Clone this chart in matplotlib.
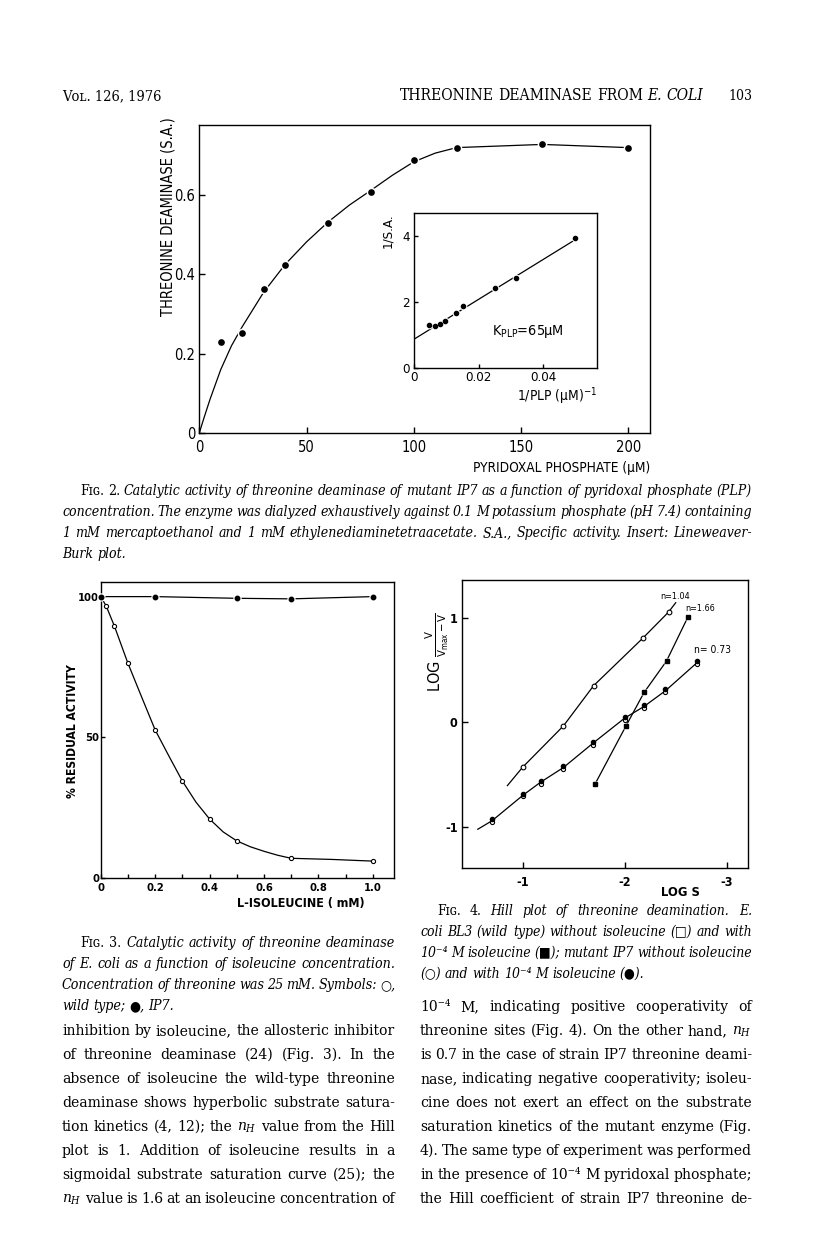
import matplotlib
matplotlib.use("Agg")
import matplotlib.pyplot as plt
from matplotlib import font_manager as fm
from matplotlib.ticker import MultipleLocator

W, H = 816, 1233

# ---- Fig. 2: specific activity vs pyridoxal phosphate ----
plp_um = [10, 20, 30, 40, 60, 80, 100, 120, 160, 200]
spec_act = [0.230, 0.253, 0.363, 0.425, 0.530, 0.609, 0.688, 0.720, 0.728, 0.720]
# the hand drawn saturation curve
sat_curve_x = [0, 2, 5, 10, 15, 20, 30, 40, 50, 60, 70, 80, 90, 100, 110, 120, 160, 200]
sat_curve_y = [0, 0.035, 0.085, 0.16, 0.22, 0.268, 0.355, 0.425, 0.482, 0.532,
               0.575, 0.612, 0.65, 0.684, 0.706, 0.72, 0.728, 0.72]

# insert: Lineweaver-Burk plot
inv_plp = [0.0047, 0.0066, 0.0081, 0.0096, 0.0129, 0.0153, 0.0250, 0.0316, 0.0499]
inv_sa = [1.30, 1.28, 1.33, 1.43, 1.66, 1.87, 2.42, 2.72, 3.95]
lb_line_x = [0, 0.050]
lb_line_y = [0.88, 3.90]

# ---- Fig. 3: residual activity vs isoleucine ----
ile_mm = [0, 0.02, 0.05, 0.1, 0.2, 0.3, 0.4, 0.5, 0.7, 1.0]
wild_type = [100, 96.7, 89.6, 76.3, 52.6, 34.4, 20.9, 13.1, 6.9, 5.9]
wt_curve_x = [0, 0.02, 0.05, 0.1, 0.15, 0.2, 0.25, 0.3, 0.35, 0.4, 0.45, 0.5, 0.55, 0.6, 0.65, 0.7, 0.85, 1.0]
wt_curve_y = [100, 96.7, 89.6, 76.3, 64.4, 52.6, 43.4, 34.4, 26.9, 20.9, 16.3, 13.1, 11.0, 9.4, 8.0, 6.9, 6.5, 5.9]
ip7_ile_mm = [0, 0.2, 0.5, 0.7, 1.0]
ip7_act = [100, 100, 99.4, 99.2, 100]

# ---- Fig. 4: Hill plot ----
wt_x = [-1.0, -1.40, -1.695, -2.176, -2.43]
wt_y = [-0.429, -0.032, 0.353, 0.808, 1.06]
wt_line_x = [-0.85, -1.0, -1.40, -1.695, -2.176, -2.43, -2.50]
wt_line_y = [-0.606, -0.429, -0.032, 0.353, 0.808, 1.06, 1.15]
wt_ile_x = [-1.712, -2.01, -2.19, -2.41, -2.62]
wt_ile_y = [-0.586, -0.038, 0.288, 0.59, 1.013]
ip7_x = [-0.70, -1.006, -1.176, -1.40, -1.69, -2.00, -2.19, -2.40, -2.71]
ip7_noile_y = [-0.955, -0.71, -0.59, -0.445, -0.212, 0.025, 0.14, 0.29, 0.56]
ip7_withile_y = [-0.93, -0.685, -0.56, -0.42, -0.185, 0.052, 0.168, 0.318, 0.59]
ip7_line_x = [-0.56, -0.70, -1.006, -1.176, -1.40, -1.69, -2.00, -2.19, -2.40, -2.71]
ip7_line_y = [-1.025, -0.943, -0.696, -0.573, -0.432, -0.198, 0.042, 0.154, 0.305, 0.575]

# ---- page text ----
cap2 = ["Fɪɢ. 2. Catalytic activity of threonine deaminase of mutant IP7 as a function of pyridoxal phosphate (PLP)",
        "concentration. The enzyme was dialyzed exhaustively against 0.1 M potassium phosphate (pH 7.4) containing",
        "1 mM mercaptoethanol and 1 mM ethylenediaminetetraacetate. S.A., Specific activity. Insert: Lineweaver-",
        "Burk plot."]
cap3 = ["Fɪɢ. 3. Catalytic activity of threonine deaminase",
        "of E. coli as a function of isoleucine concentration.",
        "Concentration of threonine was 25 mM. Symbols: ○,",
        "wild type; ●, IP7."]
cap4 = ["Fɪɢ. 4. Hill plot of threonine deamination. E.",
        "coli BL3 (wild type) without isoleucine (□) and with",
        "10⁻⁴ M isoleucine (■); mutant IP7 without isoleucine",
        "(○) and with 10⁻⁴ M isoleucine (●)."]
NH = r"$\mathit{n}_{\mathit{H}}$"
body_left = ["inhibition by isoleucine, the allosteric inhibitor",
             "of threonine deaminase (24) (Fig. 3). In the",
             "absence of isoleucine the wild-type threonine",
             "deaminase shows hyperbolic substrate satura-",
             "tion kinetics (4, 12); the " + NH + " value from the Hill",
             "plot is 1. Addition of isoleucine results in a",
             "sigmoidal substrate saturation curve (25); the",
             NH + " value is 1.6 at an isoleucine concentration of"]
body_right = ["10⁻⁴ M, indicating positive cooperativity of",
              "threonine sites (Fig. 4). On the other hand, " + NH,
              "is 0.7 in the case of strain IP7 threonine deami-",
              "nase, indicating negative cooperativity; isoleu-",
              "cine does not exert an effect on the substrate",
              "saturation kinetics of the mutant enzyme (Fig.",
              "4). The same type of experiment was performed",
              "in the presence of 10⁻⁴ M pyridoxal phosphate;",
              "the Hill coefficient of strain IP7 threonine de-"]

CHART = 'DejaVu Sans'
names = {f.name for f in fm.fontManager.ttflist}
if 'Liberation Sans Narrow' in names:
    CHART = 'Liberation Sans Narrow'
SERIF = ['DejaVu Serif', 'DejaVu Sans']
plt.rcParams['font.family'] = [CHART, 'DejaVu Sans']
plt.rcParams['font.stretch'] = 'condensed'
plt.rcParams['mathtext.default'] = 'regular'
plt.rcParams['mathtext.fontset'] = 'dejavuserif'
plt.rcParams['axes.linewidth'] = 1.0

fig = plt.figure(figsize=(W / 100, H / 100), dpi=100)
renderer = fig.canvas.get_renderer()


def box(l, t, r, b):
    return fig.add_axes([l / W, 1 - b / H, (r - l) / W, (b - t) / H])


def width_of(s, **kw):
    t = fig.text(0, 0, s, **kw)
    w = t.get_window_extent(renderer).width
    t.remove()
    return w


def label(x, y, s, length, ha='center', rotation=0, **kw):
    size = 10 * length / width_of(s, size=10, **kw)
    fig.text(x / W, 1 - y / H, s, size=size, ha=ha, va='center', rotation=rotation, **kw)


def dots(ax, x, y, ms, halo, **kw):
    ax.plot(x, y, 'o', ms=halo, mfc='white', mec='none', zorder=3, clip_on=False)
    ax.plot(x, y, 'o', ms=ms, color='k', zorder=4, clip_on=False, **kw)


ROMAN = dict(family=SERIF, style='normal', stretch='condensed')
ITAL = dict(family=SERIF, style='italic', stretch='condensed')


def tokens_of(line, kind, first):
    words = line.split(' ')
    out = []
    for i, w in enumerate(words):
        if kind == 'caption' and not (first and i < 2):
            out.append((w, ITAL))
        else:
            out.append((w, ROMAN))
    return out


def draw_line(tokens, x0, x1, yb, size, justify):
    ws = [width_of(s, size=size, **kw) for s, kw in tokens]
    space = width_of('n n', size=size, **ROMAN) - width_of('nn', size=size, **ROMAN)
    gap = (x1 - x0 - sum(ws)) / (len(ws) - 1) if justify and len(ws) > 1 else space
    x = x0
    for (s, kw), w in zip(tokens, ws):
        fig.text(x / W, 1 - yb / H, s, size=size, ha='left', va='baseline', **kw)
        x += w + gap


def paragraph(lines, x0, x1, y0, step, kind, indent=0, last_full=False, tight=0.8):
    toks = [tokens_of(l, kind, i == 0) for i, l in enumerate(lines)]
    space = width_of('n n', size=10, **ROMAN) - width_of('nn', size=10, **ROMAN)
    ratio = 0
    for i, tk in enumerate(toks):
        if i == len(toks) - 1 and not last_full:
            continue
        nat = sum(width_of(s, size=10, **kw) for s, kw in tk) + tight * space * (len(tk) - 1)
        avail = x1 - x0 - (indent if i == 0 else 0)
        ratio = max(ratio, nat / avail)
    size = 10 / ratio
    for i, tk in enumerate(toks):
        start = x0 + (indent if i == 0 else 0)
        full = i < len(toks) - 1 or last_full
        draw_line(tk, start, x1, y0 + i * step, size, full)


# ================= Fig. 2 =================
ax = box(199.3, 125, 650, 433)
ax.plot(sat_curve_x, sat_curve_y, 'k-', lw=0.9, zorder=2)
dots(ax, plp_um, spec_act, 3.8, 7)
ax.set_xlim(0, 210.2)
ax.set_ylim(0, 0.777)
ax.set_xticks([0, 50, 100, 150, 200])
ax.set_xticklabels(['0', '50', '100', '150', '200'])
ax.set_yticks([0, 0.2, 0.4, 0.6])
ax.set_yticklabels(['0', '0.2', '0.4', '0.6'])
ax.tick_params(direction='in', length=4, width=1, labelsize=10.5)
ax.tick_params(axis='x', pad=5)
ax.tick_params(axis='y', pad=3)
label(168, 217, 'THREONINE DEAMINASE (S.A.)', 200, rotation=90)
label(650, 468, 'PYRIDOXAL PHOSPHATE (µM)', 177, ha='right')

ins = box(414, 213.3, 597, 368.3)
ins.plot(lb_line_x, lb_line_y, 'k-', lw=0.9, zorder=2)
dots(ins, inv_plp, inv_sa, 3.0, 5.5)
ins.set_xlim(0, 0.0566)
ins.set_ylim(0, 4.69)
ins.set_xticks([0, 0.02, 0.04])
ins.set_xticklabels(['0', '0.02', '0.04'])
ins.set_yticks([0, 2, 4])
ins.set_yticklabels(['0', '2', '4'])
ins.tick_params(direction='in', length=3, width=1, labelsize=9.5)
ins.tick_params(axis='x', pad=2)
ins.tick_params(axis='y', pad=3)
label(388, 231, '1/S.A.', 35, rotation=90)
label(597, 396, r'1/PLP (µM)$^{-1}$', 80, ha='right')
label(491.7, 331.7, r'K$_{PLP}$=65µM', 72, ha='left')

# ================= Fig. 3 =================
ax3 = box(100.7, 582, 394, 877.7)
ax3.plot(wt_curve_x, wt_curve_y, 'k-', lw=0.9, zorder=2)
ax3.plot(ip7_ile_mm, ip7_act, 'k-', lw=0.9, zorder=2)
ax3.plot(ile_mm, wild_type, 'o', ms=3.0, mfc='white', mec='k', mew=0.8, zorder=4, clip_on=False)
dots(ax3, ip7_ile_mm, ip7_act, 3.2, 6)
ax3.set_xlim(0, 1.078)
ax3.set_ylim(0, 105.2)
ax3.set_xticks([0, 0.2, 0.4, 0.6, 0.8, 1.0])
ax3.set_xticklabels(['0', '0.2', '0.4', '0.6', '0.8', '1.0'], fontweight='bold')
ax3.xaxis.set_minor_locator(MultipleLocator(0.1))
ax3.set_yticks([0, 50, 100])
ax3.set_yticklabels(['0', '50', '100'], fontweight='bold')
ax3.tick_params(which='both', direction='in', length=3, width=1, labelsize=8)
ax3.tick_params(axis='x', pad=3.5)
ax3.tick_params(axis='y', pad=1)
label(73, 731, '% RESIDUAL ACTIVITY', 133, rotation=90, fontweight='bold')
label(301, 903, 'L-ISOLEUCINE ( mM)', 128, fontweight='bold')

# ================= Fig. 4 =================
ax4 = box(461.7, 580, 747.7, 868.3)
ax4.plot(wt_line_x, wt_line_y, 'k-', lw=0.9, zorder=2)
ax4.plot(wt_ile_x, wt_ile_y, 'k-', lw=0.9, zorder=2)
ax4.plot(ip7_line_x, ip7_line_y, 'k-', lw=0.9, zorder=2)
ax4.plot(wt_x, wt_y, 'o', ms=3.4, mfc='white', mec='k', mew=0.8, zorder=4)
ax4.plot(wt_ile_x, wt_ile_y, 's', ms=5, mfc='white', mec='none', zorder=3)
ax4.plot(wt_ile_x, wt_ile_y, 's', ms=3.2, color='k', zorder=4)
ax4.plot(ip7_x, ip7_noile_y, 'o', ms=3.0, mfc='white', mec='k', mew=0.8, zorder=4)
ax4.plot(ip7_x, ip7_withile_y, 'o', ms=3.0, color='k', zorder=5)
ax4.set_xlim(-0.402, -3.206)
ax4.set_ylim(-1.40, 1.368)
ax4.set_xticks([-1, -2, -3])
ax4.set_xticklabels(['-1', '-2', '-3'], fontweight='bold')
ax4.set_yticks([-1, 0, 1])
ax4.set_yticklabels(['-1', '0', '1'], fontweight='bold')
ax4.tick_params(direction='in', length=4, width=1, labelsize=9)
ax4.tick_params(axis='x', pad=5.5)
ax4.tick_params(axis='y', pad=3)
label(437, 652, r'LOG $\frac{V}{V_{max} - V}$', 80, rotation=90)
label(680, 892.5, 'LOG S', 38.6, fontweight='bold')
label(660, 596.7, 'n=1.04', 30, ha='left')
label(685.7, 608.3, 'n=1.66', 30, ha='left')
label(694.3, 650, 'n= 0.73', 37, ha='left')

# ================= page text =================
label(62, 96, 'Vᴏʟ. 126, 1976', 100, ha='left', **ROMAN)
title = [('THREONINE', ROMAN), ('DEAMINASE', ROMAN), ('FROM', ROMAN), ('E.', ITAL), ('COLI', ITAL)]
tw = sum(width_of(s, size=10, **kw) for s, kw in title)
tsp = width_of('N N', size=10, **ROMAN) - width_of('NN', size=10, **ROMAN)
draw_line(title, 400, 703, 100, 10 * 303 / (tw + 4 * tsp), True)
label(752, 96, '103', 24, ha='right', **ROMAN)

paragraph(cap2, 62, 752, 495, 21, 'caption', indent=18)
paragraph(cap3, 62, 395, 947, 21, 'caption', indent=18)
paragraph(cap4, 420, 752, 915, 21, 'caption', indent=17)
paragraph(body_left, 62, 395, 1035, 24, 'body', last_full=True)
paragraph(body_right, 420, 752, 1011, 24, 'body', last_full=True)

fig.savefig('out.png', dpi=100)
